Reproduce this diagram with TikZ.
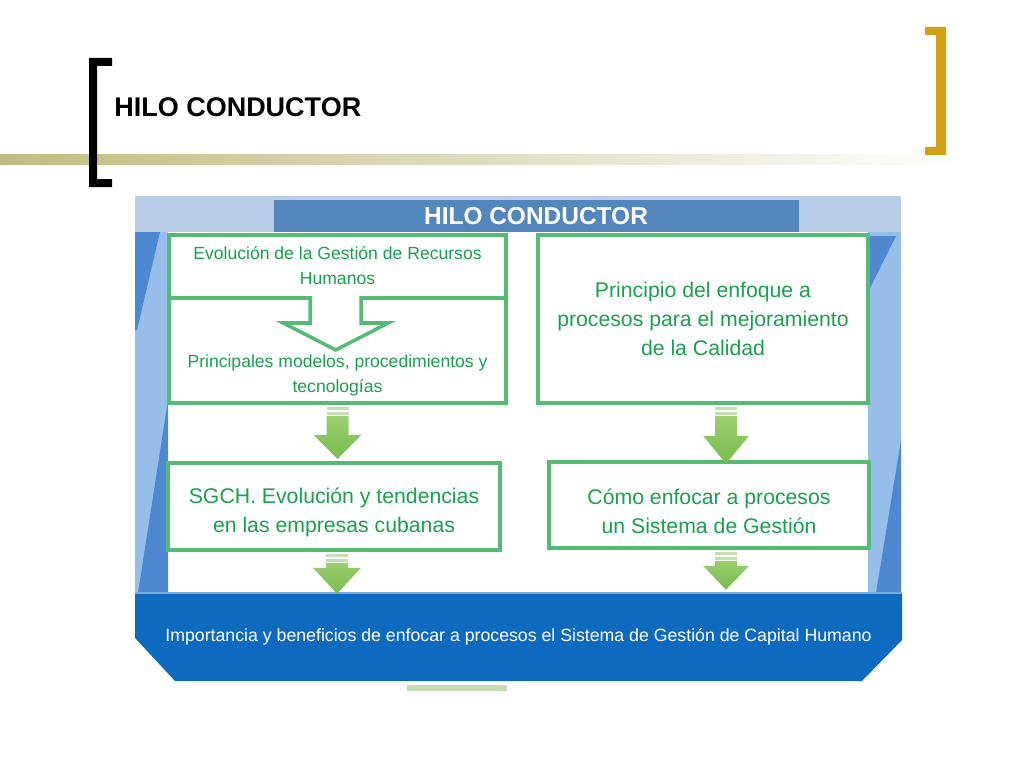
\documentclass[tikz,border=0pt]{standalone}
\usepackage{fontspec}
\setmainfont{Liberation Sans}
\usetikzlibrary{shadows}
\definecolor{boxgreen}{RGB}{84,186,116}
\definecolor{txtgreen}{RGB}{25,160,80}
\definecolor{arrowtop}{RGB}{165,212,120}
\definecolor{arrowbot}{RGB}{120,188,78}
\definecolor{stripegreen}{RGB}{196,222,178}
\definecolor{bandlight}{RGB}{185,205,230}
\definecolor{headblue}{RGB}{84,134,190}
\definecolor{sidelight}{RGB}{150,190,232}
\definecolor{sidedark}{RGB}{78,136,208}
\definecolor{baseblue}{RGB}{14,106,190}
\definecolor{linegold}{RGB}{192,188,128}
\definecolor{goldbr}{RGB}{210,160,20}
\newdimen\pxl \pxl=0.025cm
\tikzstyle{titulo}=[anchor=base west,inner sep=0pt,font=\bfseries\fontsize{19.2}{23}\selectfont]
\tikzstyle{cabecera}=[fill=headblue,minimum width=525\pxl,minimum height=32\pxl,inner sep=0pt,text=white,font=\bfseries\fontsize{17.4}{20}\selectfont]
\tikzstyle{box}=[draw=boxgreen,line width=2.5pt,fill=white,inner sep=0pt,drop shadow={opacity=0.3,shadow xshift=0.6pt,shadow yshift=-1.6pt}]
\tikzstyle{boxtext}=[inner sep=0pt,align=center,text=txtgreen,font=\fontsize{12.5}{17.5}\selectfont]
\tikzstyle{bigtext}=[inner sep=0pt,align=center,text=txtgreen,font=\fontsize{15.1}{20.5}\selectfont]
\tikzstyle{boxline}=[draw=boxgreen,line width=2.5pt]
\tikzstyle{arrowbody}=[top color=arrowtop,bottom color=arrowbot]
\tikzstyle{stripe}=[fill=stripegreen]
\tikzstyle{basetext}=[inner sep=0pt,text=white,font=\fontsize{12.6}{15}\selectfont]

\begin{document}
\begin{tikzpicture}[x=0.025cm,y=-0.025cm]
\useasboundingbox (0,0) rectangle (1024,768);
\fill[white] (0,0) rectangle (1024,768);
% title
\shade[left color=linegold,middle color=linegold!75,right color=white] (0,155) rectangle (965,165);
\fill[black] (89,58) -- (112,58) -- (112,66) -- (97,66) -- (97,179) -- (112,179) -- (112,187) -- (89,187) -- cycle;
\fill[goldbr] (925,27) -- (946,27) -- (946,155) -- (925,155) -- (925,147) -- (936,147) -- (936,35) -- (925,35) -- cycle;
\node[titulo] (titulo) at (114,117) {HILO CONDUCTOR};
% frame
\fill[bandlight] (135,196) rectangle (901,232);
\node[cabecera] (cabecera) at (536,216) {HILO CONDUCTOR};
\fill[sidelight] (135,232) rectangle (168,593);
\fill[sidedark] (135,232) -- (160,232) -- (137,330) -- (135,330) -- cycle;
\fill[sidedark] (168,400) -- (168,593) -- (138,593) -- cycle;
\fill[sidelight] (868,232) rectangle (901,593);
\fill[sidedark] (868,236) -- (896,236) -- (868,292) -- cycle;
\fill[sidedark] (901,440) -- (901,593) -- (876,593) -- cycle;
\fill[baseblue] (135,593) -- (902,593) -- (902,640) -- (862,681) -- (175,681) -- (135,638) -- cycle;
\draw[baseblue!55!white,line width=0.8pt] (135,593) -- (902,593);
\fill[stripegreen] (407,685) rectangle (507,691);
\node[basetext] (importancia) at (518.5,637) {Importancia y beneficios de enfocar a procesos el Sistema de Gestión de Capital Humano};
% boxes
\node[box,minimum width=337\pxl,minimum height=168\pxl] (gestion) at (337.5,319) {};
\node[boxtext] (evol) at (337.5,265.5) {Evolución de la Gestión de Recursos\\Humanos};
\node[boxtext] (princ) at (337.5,375.5) {Principales modelos, procedimientos y\\tecnologías};
\draw[boxline] (gestion.west) ++(0,-21) -- ++(143,0) -- ++(0,25) -- ++(-27,0) -- ++(52.5,27) -- ++(52.5,-27) -- ++(-27,0) -- ++(0,-25) -- ++(143,0);
\node[box,minimum width=330\pxl,minimum height=168\pxl] (principio) at (703,319) {};
\node[bigtext] (principiotxt) at (principio) {Principio del enfoque a\\procesos para el mejoramiento\\de la Calidad};
\node[box,minimum width=332\pxl,minimum height=87\pxl] (sgch) at (334,506.5) {};
\node[bigtext] (sgchtxt) at ([yshift=-4.3pt]sgch.center) {SGCH. Evolución y tendencias\\en las empresas cubanas};
\node[box,minimum width=320\pxl,minimum height=86\pxl] (enfocar) at (709,505) {};
\node[bigtext] (enfocartxt) at ([yshift=-4.3pt]enfocar.center) {Cómo enfocar a procesos\\un Sistema de Gestión};
% arrows
\fill[stripe] (gestion.south) ++(-11,2) rectangle ++(22,3);
\fill[stripe] (gestion.south) ++(-11,7) rectangle ++(22,3);
\shade[arrowbody] (gestion.south) ++(-11,11) -- ++(22,0) -- ++(0,19) -- ++(13,0) -- ++(-24,24) -- ++(-24,-24) -- ++(13,0) -- cycle;
\fill[stripe] (principio.south) ++(12,2) rectangle ++(22,3);
\fill[stripe] (principio.south) ++(12,7) rectangle ++(22,3);
\shade[arrowbody] (principio.south) ++(12,11) -- ++(22,0) -- ++(0,20) -- ++(12,0) -- ++(-23,28) -- ++(-23,-28) -- ++(12,0) -- cycle;
\fill[stripe] (sgch.south) ++(-8,2) rectangle ++(22,3);
\fill[stripe] (sgch.south) ++(-8,7) rectangle ++(22,3);
\shade[arrowbody] (sgch.south) ++(-8,11) -- ++(22,0) -- ++(0,5) -- ++(13,0) -- ++(-24,26) -- ++(-24,-26) -- ++(13,0) -- cycle;
\fill[stripe] (enfocar.south) ++(6,2) rectangle ++(22,3);
\fill[stripe] (enfocar.south) ++(6,7) rectangle ++(22,3);
\shade[arrowbody] (enfocar.south) ++(6,11) -- ++(22,0) -- ++(0,5) -- ++(12,0) -- ++(-23,24) -- ++(-23,-24) -- ++(12,0) -- cycle;
\end{tikzpicture}
\end{document}
